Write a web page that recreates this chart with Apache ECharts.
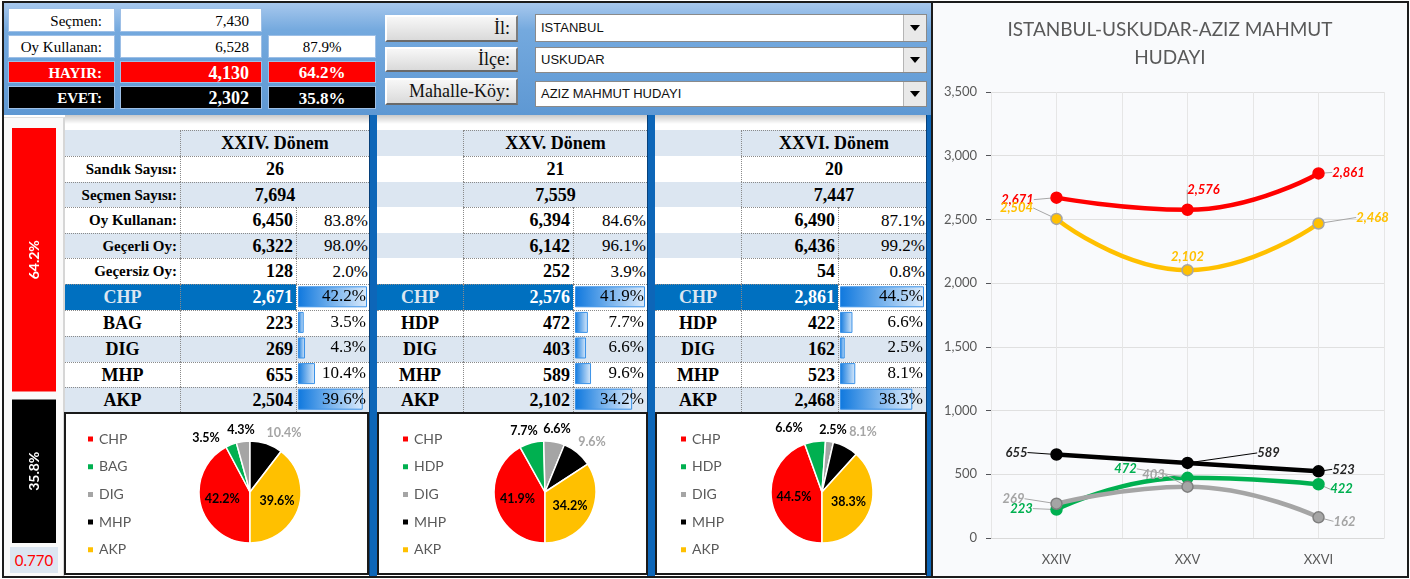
<!DOCTYPE html>
<html>
<head>
<meta charset="utf-8">
<script src="https://cdn.jsdelivr.net/npm/echarts/dist/echarts.min.js"></script>
<style>
  body { margin: 0; width: 1410px; height: 579px; position: relative; overflow: hidden; background: #fff; font-family: "Liberation Serif", serif; }
  .combo-arrow { position: absolute; right: 0; top: 0; bottom: 0; width: 22px; background: #e9e9e9; border-left: 1px solid #b5b5b5; }
  .combo-arrow:after { content: ''; position: absolute; left: 6px; top: 50%; margin-top: -3px; border-left: 5px solid transparent; border-right: 5px solid transparent; border-top: 6px solid #000; }
</style>
</head>
<body>
<script>
// ---- summary (top left)
const summaryLabels = ['Seçmen:', 'Oy Kullanan:', 'HAYIR:', 'EVET:'];
const summaryValues = [7430, 6528, 4130, 2302];
const summaryPct = [null, 87.9, 64.2, 35.8];
const ratioValue = 0.770;

// ---- filters
const filterLabels = ['İl:', 'İlçe:', 'Mahalle-Köy:'];
const filterValues = ['ISTANBUL', 'USKUDAR', 'AZIZ MAHMUT HUDAYI'];

// ---- periods
const periods = ['XXIV', 'XXV', 'XXVI'];
const periodTitles = ['XXIV. Dönem', 'XXV. Dönem', 'XXVI. Dönem'];
const statLabels = ['Sandık Sayısı:', 'Seçmen Sayısı:', 'Oy Kullanan:', 'Geçerli Oy:', 'Geçersiz Oy:'];
const sandik = [26, 21, 20];
const secmen = [7694, 7559, 7447];
const oyKullanan = [6450, 6394, 6490];
const oyKullananPct = [83.8, 84.6, 87.1];
const gecerli = [6322, 6142, 6436];
const gecerliPct = [98.0, 96.1, 99.2];
const gecersiz = [128, 252, 54];
const gecersizPct = [2.0, 3.9, 0.8];

// ---- parties (order: CHP, BAG/HDP, DIG, MHP, AKP)
const partyNames = [
  ['CHP', 'BAG', 'DIG', 'MHP', 'AKP'],
  ['CHP', 'HDP', 'DIG', 'MHP', 'AKP'],
  ['CHP', 'HDP', 'DIG', 'MHP', 'AKP']
];
const chpVotes = [2671, 2576, 2861];
const bagHdpVotes = [223, 472, 422];
const digVotes = [269, 403, 162];
const mhpVotes = [655, 589, 523];
const akpVotes = [2504, 2102, 2468];
const chpPct = [42.2, 41.9, 44.5];
const bagHdpPct = [3.5, 7.7, 6.6];
const digPct = [4.3, 6.6, 2.5];
const mhpPct = [10.4, 9.6, 8.1];
const akpPct = [39.6, 34.2, 38.3];
const lineNames = ['CHP', 'BAG/HDP', 'DIG', 'MHP', 'AKP'];
const yTicks = { min: 0, max: 3500, step: 500 };

const votesByParty = [chpVotes, bagHdpVotes, digVotes, mhpVotes, akpVotes];
const pctByParty = [chpPct, bagHdpPct, digPct, mhpPct, akpPct];
const partyColors = ['#ff0000', '#00b050', '#a5a5a5', '#000000', '#ffc000'];

const fmt = v => v.toLocaleString('en-US');
const pct = v => v.toFixed(1) + '%';
const LIGHT = '#dce6f1';
const DOT = '1px dotted #8a8a8a';

function box(x, y, w, h, css, html) {
  const d = document.createElement('div');
  d.style.cssText = 'position:absolute;box-sizing:border-box;white-space:nowrap;overflow:hidden;' +
    'left:' + x + 'px;top:' + y + 'px;width:' + w + 'px;height:' + h + 'px;' + (css || '');
  if (html !== undefined) d.innerHTML = html;
  document.body.appendChild(d);
  return d;
}

// ---- top area background
box(3, 2, 928, 113, 'background:linear-gradient(#a9c9ee 0%, #74a9de 25%, #5e98d3 100%);');

// summary table
const sumRows = [[8, 24], [35, 23], [61, 22], [86, 23]];
const sumStyles = [
  { bg: '#fff', color: '#000', w: 'normal', fs: [15, 15, 15] },
  { bg: '#fff', color: '#000', w: 'normal', fs: [15, 15, 15] },
  { bg: '#ff0000', color: '#fff', w: 'bold', fs: [15, 18, 17] },
  { bg: '#000', color: '#fff', w: 'bold', fs: [15, 18, 17] }
];
sumRows.forEach(([y, h], i) => {
  const s = sumStyles[i];
  const base = 'background:' + s.bg + ';color:' + s.color + ';font-weight:' + s.w + ';line-height:' + h + 'px;border:1px solid #9dbfe6;';
  box(8, y, 107, h, base + 'text-align:right;padding-right:12px;font-size:' + s.fs[0] + 'px;', summaryLabels[i]);
  box(120, y, 142, h, base + 'text-align:right;padding-right:12px;font-size:' + s.fs[1] + 'px;', fmt(summaryValues[i]));
  if (summaryPct[i] !== null)
    box(268, y, 108, h, base + 'text-align:center;font-size:' + s.fs[2] + 'px;', pct(summaryPct[i]));
});

// filter buttons + combos
const btnRows = [[15, 27], [47, 25], [78, 27]];
const comboRows = [[14, 28], [47, 26], [81, 26]];
filterLabels.forEach((t, i) => {
  const [by, bh] = btnRows[i];
  box(385, by, 133, bh, 'background:linear-gradient(#f7f7f7,#dadada);border-top:2px solid #fff;border-left:2px solid #fff;' +
    'border-right:2px solid #7d7d7d;border-bottom:2px solid #6a6a6a;text-align:right;padding-right:6px;font-size:18px;line-height:' + (bh - 4) + 'px;color:#111;', t);
  const [cy, ch] = comboRows[i];
  const c = box(535, cy, 392, ch, 'background:#fff;border:1px solid #8a8a8a;font-family:"Liberation Sans",sans-serif;font-size:13px;color:#111;padding-left:5px;line-height:' + (ch - 2) + 'px;', filterValues[i]);
  const a = document.createElement('div'); a.className = 'combo-arrow'; c.appendChild(a);
});

// ---- lower area
box(3, 115, 928, 462, 'background:#fff;');
box(65, 115, 866, 9, 'background:linear-gradient(#c9c9c9,#fff);');
// left panel
box(3, 117, 62, 460, 'background:#fafafa;border-right:2px solid #d6d6d6;border-top:1px solid #e0e0e0;');
box(10, 547, 48, 26, 'background:' + LIGHT + ';color:#ff0000;font-family:Lato,sans-serif;font-size:15px;text-align:center;line-height:26px;', ratioValue.toFixed(3));

// tables
const rowY = [130, 156, 182, 207, 233, 258, 284, 310, 336, 362, 387, 412];
const cols = [
  { lab: [65, 180], val: [180, 296], pct: [296, 369] },
  { lab: [377, 463], val: [463, 573], pct: [573, 647] },
  { lab: [655, 741], val: [741, 838], pct: [838, 926] }
];
const rowBg = [LIGHT, '#fff', LIGHT, '#fff', LIGHT, '#fff', '#0070c0', '#fff', LIGHT, '#fff', LIGHT];
const merged = [periodTitles, sandik.map(fmt), secmen.map(fmt)];
const split = [[oyKullanan, oyKullananPct], [gecerli, gecerliPct], [gecersiz, gecersizPct]];

cols.forEach((c, b) => {
  for (let r = 0; r < 11; r++) {
    const y0 = rowY[r], h = rowY[r + 1] - y0;
    const bg = rowBg[r];
    const lh = 'line-height:' + (h - 1) + 'px;';
    // label column
    let labCss = 'background:' + bg + ';' + lh, labHtml = '';
    if (r >= 6) {
      labHtml = partyNames[b][r - 6];
      labCss += 'text-align:center;font-weight:bold;font-size:18px;border-top:' + DOT + ';color:' + (r === 6 ? LIGHT : '#000') + ';';
    } else if (r > 0 && b === 0) {
      labHtml = statLabels[r - 1];
      labCss += 'text-align:right;padding-right:3px;font-weight:bold;font-size:15px;border-top:' + DOT + ';';
    }
    box(c.lab[0], y0, c.lab[1] - c.lab[0], h, labCss, labHtml);
    // value / pct columns
    const cellCss = 'border-top:' + DOT + ';border-left:' + DOT + ';' + lh;
    if (r < 3) {
      const txt = merged[r][b];
      box(c.val[0], y0, c.pct[1] - c.val[0], h, cellCss + 'background:' + bg + ';text-align:center;font-weight:bold;font-size:18px;', txt);
    } else if (r < 6) {
      const [vals, ps] = split[r - 3];
      box(c.val[0], y0, c.val[1] - c.val[0], h, cellCss + 'background:' + bg + ';text-align:right;padding-right:3px;font-weight:bold;font-size:18px;', fmt(vals[b]));
      box(c.pct[0], y0, c.pct[1] - c.pct[0], h, cellCss + 'background:' + bg + ';text-align:right;padding-right:1px;font-size:17px;', pct(ps[b]));
    } else {
      const p = r - 6;
      box(c.val[0], y0, c.val[1] - c.val[0], h, cellCss + 'background:' + bg + ';text-align:right;padding-right:3px;font-weight:bold;font-size:18px;color:' + (r === 6 ? '#fff' : '#000') + ';', fmt(votesByParty[p][b]));
      box(c.pct[0], y0, c.pct[1] - c.pct[0], h, cellCss + 'background:' + (r === 6 ? '#fff' : bg) + ';');
    }
  }
});
// block separators
[[369, 8], [647, 8], [926, 6]].forEach(([x, w]) => box(x, 115, w, 462, 'background:#0d66b8;border-left:1px solid #06407a;'));

// pie boxes
const pieBoxes = [[64, 305], [377, 271], [655, 272]];
const pieDivs = pieBoxes.map(([x, w]) => {
  const wrap = box(x, 412, w, 163, 'border:2px solid #1a1a1a;background:#fff;');
  const d = document.createElement('div');
  d.style.cssText = 'width:100%;height:100%;';
  wrap.appendChild(d);
  return d;
});

// frame
box(2, 1, 930, 577, 'border:2px solid #1c1c1c;border-right:none;pointer-events:none;');

// ================= charts =================

// left stacked bar (HAYIR / EVET)
const leftDiv = box(8, 124, 52, 423, '');
const leftChart = echarts.init(leftDiv);
const barLabel = { show: true, position: 'inside', rotate: 90, color: '#fff', fontFamily: 'Lato', fontWeight: 'bold', fontSize: 14, formatter: p => pct(p.value) };
leftChart.setOption({
  animation: false,
  grid: { left: 0, right: 0, top: 0, bottom: 0 },
  xAxis: { type: 'category', data: ['oy'], show: false },
  yAxis: { type: 'value', min: 0, max: 100, show: false },
  series: [
    { type: 'bar', stack: 'v', barWidth: '100%', data: [summaryPct[3]], itemStyle: { color: '#000', borderColor: '#fafafa', borderWidth: 4 }, label: barLabel },
    { type: 'bar', stack: 'v', barWidth: '100%', data: [summaryPct[2]], itemStyle: { color: '#ff0000', borderColor: '#fafafa', borderWidth: 4 }, label: barLabel }
  ]
});

// in-cell data bars
cols.forEach((c, b) => {
  const d = box(c.pct[0], rowY[6], c.pct[1] - c.pct[0], rowY[11] - rowY[6], 'z-index:5;');
  const vals = pctByParty.map(a => a[b]);
  const ch = echarts.init(d);
  ch.setOption({
    animation: false,
    grid: { left: 2, right: 1, top: 0, bottom: 0 },
    xAxis: { type: 'value', min: 0, max: Math.max(...vals), show: false },
    yAxis: {
      type: 'category', inverse: true, position: 'right', z: 10, data: partyNames[b],
      axisLine: { show: false }, axisTick: { show: false },
      axisLabel: { inside: true, margin: 1, formatter: (v, i) => pct(vals[i]), fontFamily: 'Liberation Serif', fontSize: 17, color: '#000' }
    },
    series: [{
      type: 'bar', data: vals, barWidth: 21, silent: true,
      itemStyle: {
        borderColor: '#3a92e8', borderWidth: 1,
        color: new echarts.graphic.LinearGradient(0, 0, 1, 0, [{ offset: 0, color: '#0f78de' }, { offset: 1, color: '#dcebfb' }])
      }
    }]
  });
});

// pies
const pieCenters = [[184, 78], [166, 78], [165, 78]];
const pieLabelOffsets = [
  { 1: [-44, -54], 2: [-9, -62], 3: [34, -59] },
  { 1: [-21, -61], 2: [12, -63], 3: [47, -50] },
  { 1: [-33, -64], 2: [11, -62], 3: [41, -60] }
];
const pieLabelColors = ['#000', '#000', '#000', '#a5a5a5', '#000'];
const legendLeft = [15, 17, 17];
pieDivs.forEach((d, b) => {
  const ch = echarts.init(d);
  const [cx, cy] = pieCenters[b];
  ch.setOption({
    animation: false,
    color: partyColors,
    legend: {
      orient: 'vertical', left: legendLeft[b], top: 13, icon: 'rect', itemWidth: 7, itemHeight: 7, itemGap: 13.7,
      textStyle: { fontFamily: 'Lato', fontSize: 14, color: '#595959' }, data: partyNames[b]
    },
    series: [{
      type: 'pie', radius: 51, center: [cx, cy], startAngle: -90, clockwise: true,
      itemStyle: { borderColor: '#fff', borderWidth: 1.5 },
      labelLine: { show: false },
      data: partyNames[b].map((n, i) => ({
        name: n, value: pctByParty[i][b],
        label: {
          show: true, position: 'inside', overflow: 'none',
          color: pieLabelColors[i], fontFamily: 'Lato', fontWeight: 'bold', fontSize: 12.5,
          formatter: p => pct(p.value)
        }
      })),
      labelLayout: p => {
        const o = pieLabelOffsets[b][p.dataIndex];
        return o ? { x: cx + o[0], y: cy + o[1], align: 'center', verticalAlign: 'middle' } : {};
      }
    }]
  });
});

// line chart
const lineWrap = box(931, 1, 478, 577, 'border:2px solid #1c1c1c;background:#f9fafc;');
const lineDiv = document.createElement('div');
lineDiv.style.cssText = 'width:100%;height:100%;';
lineWrap.appendChild(lineDiv);
const lineStyles = [
  { color: '#ff0000', border: '#ff0000', label: '#ff0000', guide: '#a6a6a6' },
  { color: '#00b050', border: '#00b050', label: '#00b050', guide: '#a6a6a6' },
  { color: '#a5a5a5', border: '#7f7f7f', label: '#a5a5a5', guide: '#a6a6a6' },
  { color: '#000000', border: '#000000', label: '#262626', guide: '#000000' },
  { color: '#ffc000', border: '#a5a5a5', label: '#ffc000', guide: '#a6a6a6' }
];
const lineLabelOffsets = [
  [[-39, 2], [16, -20], [30, -1]],
  [[-35, -1], [-62, -9], [23, 5]],
  [[-43, -5], [-34, -12], [26, 4]],
  [[-40, -2], [81, -10], [25, -2]],
  [[-40, -11], [0, -13], [54, -6]]
];
const lineChart = echarts.init(lineDiv);
lineChart.setOption({
  animation: false,
  title: {
    text: filterValues.join('-').replace(' HUDAYI', '\nHUDAYI'), left: 'center', top: 8,
    textStyle: { fontFamily: 'Lato', fontSize: 19, fontWeight: 'normal', color: '#595959', lineHeight: 28 }
  },
  grid: { left: 58, right: 23, top: 89, bottom: 38 },
  xAxis: [
    {
      type: 'category', data: periods, axisLine: { lineStyle: { color: '#d9d9d9' } }, axisTick: { show: false },
      axisLabel: { color: '#595959', fontFamily: 'Lato', fontSize: 13, margin: 15 }
    },
    {
      type: 'value', min: 0, max: 6, interval: 1, position: 'top', axisLine: { show: false }, axisTick: { show: false },
      axisLabel: { show: false }, splitLine: { show: true, lineStyle: { color: '#e6e6e6' } }
    }
  ],
  yAxis: {
    type: 'value', min: yTicks.min, max: yTicks.max, interval: yTicks.step,
    axisLabel: { color: '#595959', fontFamily: 'Lato', fontSize: 13, margin: 14, formatter: v => fmt(v) },
    splitLine: { lineStyle: { color: '#e0e0e0' } }, axisLine: { show: false }
  },
  series: lineNames.map((n, s) => ({
    name: n, type: 'line', smooth: true, symbol: 'circle', symbolSize: 11,
    lineStyle: { width: 4.5, color: lineStyles[s].color },
    itemStyle: { color: lineStyles[s].color, borderColor: lineStyles[s].border, borderWidth: 1.5 },
    label: {
      show: true, position: 'inside', color: lineStyles[s].label,
      fontFamily: 'Lato', fontStyle: 'italic', fontWeight: 'bold', fontSize: 13,
      formatter: p => fmt(p.value)
    },
    labelLine: { show: true, lineStyle: { color: lineStyles[s].guide, width: 1 } },
    labelLayout: p => {
      const o = lineLabelOffsets[s][p.dataIndex];
      return { dx: o[0], dy: o[1] };
    },
    data: votesByParty[s]
  }))
});
</script>
</body>
</html>
